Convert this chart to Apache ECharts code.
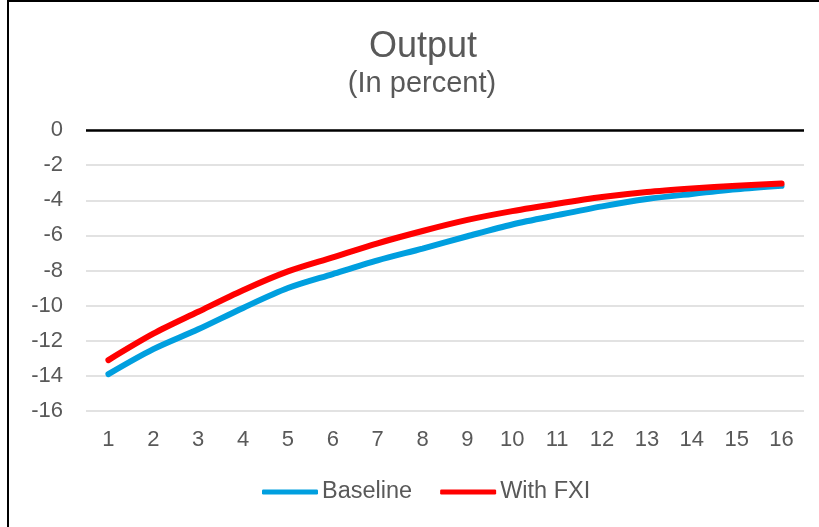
<!DOCTYPE html>
<html>
<head>
<meta charset="utf-8">
<script src="https://cdn.jsdelivr.net/npm/echarts@6/dist/echarts.min.js"></script>
<style>
  html, body { margin: 0; padding: 0; background: #fff; }
  #frame {
    position: absolute; left: 7px; top: 0px; width: 830px; height: 540px;
    border-left: 2px solid #000; border-top: 2px solid #000; box-sizing: border-box;
  }
  #chart { position: absolute; left: 0; top: 0; width: 819px; height: 527px; }
</style>
</head>
<body>
<div id="frame"></div>
<div id="chart"></div>
<script>
// Quarters after the shock
const quarters = ['1','2','3','4','5','6','7','8','9','10','11','12','13','14','15','16'];
// Output deviation, percent
const baseline = [-13.9, -12.48, -11.35, -10.13, -9.0, -8.2, -7.42, -6.75, -6.05, -5.38, -4.85, -4.35, -3.93, -3.64, -3.38, -3.18];
const withFXI  = [-13.1, -11.6, -10.35, -9.12, -8.05, -7.25, -6.45, -5.75, -5.12, -4.62, -4.2, -3.82, -3.53, -3.33, -3.17, -3.05];
const yTicks = { min: -16, max: 0, step: 2 };

const font = '"Liberation Sans", Arial, sans-serif';
const grey = '#595959';

const chart = echarts.init(document.getElementById('chart'), null, { renderer: 'canvas' });
chart.setOption({
  animation: false,
  backgroundColor: 'transparent',
  title: [
    { text: 'Output', left: 418, top: 24, textAlign: 'center',
      textStyle: { fontFamily: font, fontSize: 36, fontWeight: 'normal', color: grey } },
    { text: '(In percent)', left: 417, top: 64, textAlign: 'center',
      textStyle: { fontFamily: font, fontSize: 29, fontWeight: 'normal', color: grey } }
  ],
  legend: {
    bottom: 18, left: 257,
    icon: 'roundRect', itemWidth: 56, itemHeight: 5, itemGap: 28,
    textStyle: { fontFamily: font, fontSize: 23.5, color: grey, padding: [0, 0, 0, -1] },
    data: ['Baseline', 'With FXI']
  },
  grid: { left: 86, right: 15, top: 130, bottom: 116 },
  xAxis: {
    type: 'category', data: quarters, boundaryGap: true,
    axisLine: { show: false }, axisTick: { show: false },
    axisLabel: { fontFamily: font, fontSize: 22, color: grey, margin: 18 }
  },
  yAxis: {
    type: 'value', min: yTicks.min, max: yTicks.max, interval: yTicks.step,
    axisLine: { show: false }, axisTick: { show: false },
    axisLabel: { fontFamily: font, fontSize: 22, color: grey, margin: 23 },
    splitLine: { lineStyle: { color: '#d9d9d9', width: 1.5 } }
  },
  series: [
    {
      name: 'Baseline', type: 'line', data: baseline, smooth: 0.3,
      symbol: 'none', lineStyle: { color: '#009fdf', width: 6, cap: 'round' },
      itemStyle: { color: '#009fdf' },
      markLine: {
        silent: true, symbol: 'none', label: { show: false },
        lineStyle: { color: '#000', width: 2.5, type: 'solid' },
        data: [{ yAxis: 0 }]
      }
    },
    {
      name: 'With FXI', type: 'line', data: withFXI, smooth: 0.3,
      symbol: 'none', lineStyle: { color: '#ff0000', width: 6, cap: 'round' },
      itemStyle: { color: '#ff0000' }
    }
  ]
});
</script>
</body>
</html>
